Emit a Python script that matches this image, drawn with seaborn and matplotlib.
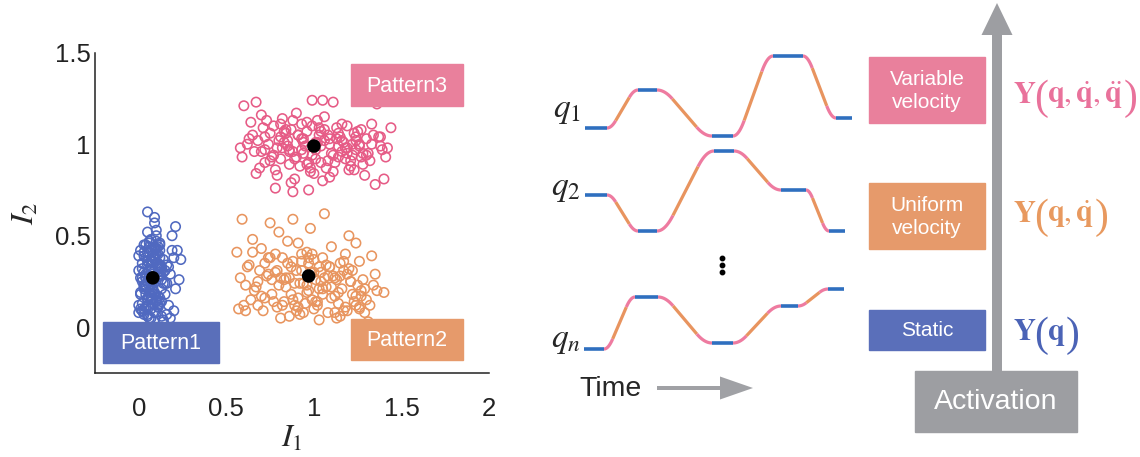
import numpy as np
import pandas as pd
import matplotlib
matplotlib.use("Agg")
import matplotlib.pyplot as plt
from matplotlib.patches import Rectangle, FancyArrow
import seaborn as sns

# ---------------- data ----------------
P1_x = [0.05,0.09,0.10,0.04,0.07,0.12,0.02,0.06,0.11,0.08,
        0.03,0.09,0.13,0.01,0.05,0.07,0.10,0.12,0.04,0.08,
        0.00,0.06,0.11,0.09,0.03,0.14,0.07,0.02,0.10,0.05,
        0.12,0.08,0.01,0.04,0.13,0.06,0.09,0.11,0.03,0.07,
        0.00,0.10,0.05,0.12,0.08,0.02,0.14,0.06,0.09,0.04,
        0.11,0.07,0.01,0.13,0.05,0.10,0.03,0.08,0.12,0.06,
        0.02,0.09,0.15,0.04,0.11,0.07,0.00,0.13,0.05,0.10,
        0.08,0.03,0.12,0.06,0.14,0.01,0.09,0.16,0.04,0.11,
        0.07,0.02,0.10,0.05,0.13,0.08,0.15,0.03,0.12,0.06,
        0.19,0.21,0.24,0.23,0.21,0.19,0.22,0.17,0.18,0.20,
        0.16,0.18,0.15,0.17,0.20,0.16,0.09,0.05,0.12,0.14,
        0.03,0.07,0.11,0.05,0.09,0.13,0.01,0.06,0.10,0.04,
        0.08,0.12,0.02,0.07,0.11,0.05,0.09,0.03,0.13,0.06,
        0.10,0.04,0.08,0.12,0.00,0.07,0.11,0.05,0.09,0.14,
        0.02,0.06,0.10,0.04,0.08,0.12,0.03,0.07,0.11,0.05]
P1_y = [0.63,0.60,0.53,0.45,0.42,0.38,0.35,0.31,0.28,0.25,
        0.22,0.18,0.14,0.10,0.07,0.48,0.40,0.33,0.27,0.20,
        0.12,0.05,0.44,0.37,0.30,0.24,0.16,0.09,0.50,0.41,
        0.34,0.26,0.19,0.11,0.06,0.46,0.39,0.32,0.23,0.15,
        0.08,0.43,0.36,0.29,0.21,0.13,0.04,0.47,0.38,0.27,
        0.17,0.10,0.42,0.33,0.25,0.14,0.07,0.36,0.28,0.19,
        0.09,0.44,0.31,0.22,0.12,0.05,0.39,0.26,0.16,0.35,
        0.29,0.21,0.13,0.41,0.30,0.18,0.08,0.34,0.23,0.11,
        0.37,0.27,0.15,0.06,0.32,0.20,0.24,0.10,0.45,0.28,
        0.50,0.55,0.37,0.26,0.21,0.42,0.42,0.33,0.29,0.38,
        0.07,0.05,0.18,0.12,0.09,0.24,0.57,0.52,0.46,0.03,
        0.41,0.36,0.30,0.24,0.19,0.33,0.27,0.44,0.14,0.38,
        0.22,0.28,0.32,0.17,0.40,0.12,0.26,0.45,0.21,0.35,
        0.08,0.29,0.39,0.16,0.31,0.23,0.11,0.34,0.43,0.37,
        0.25,0.20,0.47,0.18,0.13,0.42,0.39,0.31,0.35,0.15]

P2_x = [0.59,0.65,0.75,0.80,0.88,0.91,0.98,1.06,1.20,1.24,
        0.56,0.62,0.70,0.78,0.85,0.93,1.00,1.10,1.17,1.33,
        0.58,0.66,0.72,0.82,0.89,0.96,1.03,1.13,1.26,1.35,
        0.60,0.68,0.76,0.84,0.90,0.99,1.05,1.15,1.22,1.40,
        0.57,0.64,0.73,0.79,0.87,0.94,1.02,1.09,1.19,1.30,
        0.61,0.69,0.77,0.83,0.92,0.97,1.04,1.12,1.25,1.32,
        0.63,0.71,0.80,0.86,0.95,1.01,1.08,1.16,1.23,1.28,
        0.67,0.74,0.81,0.88,0.93,1.00,1.07,1.14,1.21,1.29,
        0.70,0.78,0.84,0.90,0.96,1.03,1.10,1.18,1.27,1.34,
        0.74,0.82,0.87,0.92,0.98,1.05,1.11,1.15,1.20,1.26,
        0.76,0.85,0.91,0.97,1.02,1.06,1.12,1.17,1.24,1.31,
        0.88,0.93,0.99,1.04,1.09,1.14,1.19,1.24,1.29,0.91,
        0.96,1.01,1.07,1.12,1.17,1.22,1.27,0.86,0.94,1.00,
        1.05,1.10,1.15,1.21,1.26,0.89,0.97,1.03,1.08,1.13,
        0.65,0.72,0.79,0.61,0.75,0.83,1.18,1.36,0.68,0.81]
P2_y = [0.59,0.48,0.57,0.52,0.59,0.46,0.54,0.62,0.50,0.46,
        0.41,0.33,0.43,0.30,0.47,0.40,0.37,0.44,0.31,0.39,
        0.27,0.20,0.35,0.38,0.24,0.41,0.33,0.26,0.36,0.29,
        0.12,0.25,0.18,0.22,0.31,0.15,0.21,0.28,0.18,0.19,
        0.10,0.15,0.28,0.11,0.18,0.24,0.12,0.33,0.09,0.15,
        0.09,0.31,0.14,0.26,0.07,0.20,0.30,0.17,0.23,0.12,
        0.34,0.09,0.23,0.06,0.13,0.26,0.08,0.21,0.14,0.26,
        0.22,0.29,0.05,0.15,0.36,0.10,0.22,0.13,0.25,0.08,
        0.17,0.40,0.27,0.09,0.19,0.04,0.16,0.11,0.20,0.23,
        0.38,0.12,0.33,0.24,0.30,0.18,0.28,0.06,0.32,0.10,
        0.26,0.35,0.11,0.38,0.14,0.27,0.08,0.36,0.17,0.03,
        0.36,0.31,0.40,0.25,0.33,0.19,0.29,0.12,0.21,0.16,
        0.23,0.14,0.34,0.27,0.09,0.31,0.17,0.27,0.08,0.30,
        0.38,0.22,0.35,0.25,0.11,0.12,0.35,0.21,0.28,0.05,
        0.41,0.16,0.31,0.23,0.38,0.14,0.40,0.20,0.12,0.27]

P3_x = [0.60,0.67,0.99,1.05,1.11,1.36,0.58,0.59,0.67,1.44,
        1.41,1.40,1.35,0.78,0.88,0.97,0.64,0.70,0.75,0.82,
        0.85,0.90,0.94,1.02,1.08,1.14,1.19,1.25,1.30,1.33,
        0.66,0.72,0.77,0.81,0.87,0.92,0.96,1.01,1.06,1.12,
        1.17,1.22,1.27,1.32,1.38,0.69,0.74,0.79,0.84,0.89,
        0.93,0.98,1.03,1.09,1.15,1.20,1.24,1.29,1.34,0.71,
        0.76,0.80,0.86,0.91,0.95,1.00,1.04,1.10,1.16,1.21,
        1.26,1.31,0.73,0.78,0.83,0.88,0.93,0.97,1.02,1.07,
        1.13,1.18,1.23,1.28,1.37,0.68,0.75,0.82,0.90,0.96,
        1.01,1.06,1.11,1.16,1.22,1.27,0.63,0.72,0.81,0.86,
        0.94,0.99,1.04,1.09,1.14,1.19,1.24,1.30,1.39,0.85,
        0.79,0.84,0.89,0.94,0.99,1.04,1.09,1.14,1.19,1.24,
        0.81,0.86,0.91,0.96,1.01,1.06,1.11,1.16,1.21,1.26,
        0.77,0.83,0.88,0.93,0.98,1.03,1.08,1.13,1.18,1.23,
        1.28,0.72,0.65,0.70,1.33,1.38,1.42,0.62,0.87,1.05]
P3_y = [1.21,1.23,1.24,1.24,1.23,1.22,0.98,0.93,0.84,1.09,
        0.93,0.81,0.78,0.76,0.74,0.75,1.12,1.16,1.06,1.14,
        1.02,1.17,0.95,1.13,1.05,0.99,1.10,1.07,1.03,1.00,
        0.96,1.04,1.10,0.92,1.08,0.88,1.12,0.97,1.15,0.90,
        1.01,0.94,1.08,0.91,0.99,0.87,1.00,0.83,1.06,0.81,
        1.03,0.85,1.09,0.82,1.04,0.86,0.97,0.83,1.05,1.09,
        0.93,1.02,0.89,1.05,0.99,0.84,1.07,0.95,1.11,0.88,
        1.00,0.95,1.13,0.86,1.07,0.96,1.11,0.90,1.01,0.87,
        1.03,0.92,1.06,0.89,1.04,1.02,0.91,0.98,0.93,1.07,
        0.92,1.02,0.85,0.96,1.00,0.93,1.03,0.97,1.04,0.97,
        1.01,0.94,0.99,1.03,0.93,0.98,1.02,0.94,0.97,0.99,
        0.98,1.08,0.92,1.03,1.10,0.90,1.00,1.06,0.95,1.04,
        1.11,0.96,1.05,0.89,1.01,1.08,0.94,1.02,0.91,0.99,
        0.94,1.01,1.13,0.97,0.87,1.05,0.91,1.09,0.98,0.86,
        0.95,0.90,1.05,0.96,1.11,1.04,0.98,1.00,0.79,0.80]

centroid_x = [0.08, 0.97, 1.00]
centroid_y = [0.27, 0.28, 0.99]
pattern_names = ["Pattern1", "Pattern2", "Pattern3"]

x_ticks = [0, 0.5, 1, 1.5, 2]
x_ticklabels = ["0", "0.5", "1", "1.5", "2"]
y_ticks = [0, 0.5, 1, 1.5]
y_ticklabels = ["0", "0.5", "1", "1.5"]

# joint trajectories: static (dwell) intervals (t_start, t_end) and levels (screen units)
q1_t = [(585, 607), (638, 657), (712, 733), (773, 803), (836, 852)]
q1_lv = [128, 90, 136, 56, 118]
q2_t = [(585, 607), (638, 657), (714, 734), (781, 806), (829, 845)]
q2_lv = [195, 231, 151, 190, 231]
qn_t = [(584, 604), (635, 658), (712, 733), (781, 798), (828, 844)]
qn_lv = [349, 297, 343, 306, 289]
traj_labels = [r"$q_1$", r"$q_2$", r"$q_n$"]

level_names = ["Variable\nvelocity", "Uniform\nvelocity", "Static"]
level_args = [r"$\mathbf{q},\dot{\mathbf{q}},\ddot{\mathbf{q}}$",
              r"$\mathbf{q},\dot{\mathbf{q}}$",
              r"$\mathbf{q}$"]

# ---------------- style ----------------
sns.set_theme(style="white")
plt.rcParams["font.family"] = ["Liberation Sans", "DejaVu Sans"]
plt.rcParams["mathtext.fontset"] = "stix"

C_BLUE_PT = "#5069c0"
C_ORANGE_PT = "#e8955f"
C_PINK_PT = "#e65b86"
C_BLUE_BOX = "#5a6fba"
C_ORANGE_BOX = "#e69a6b"
C_PINK_BOX = "#e9809c"
C_TR_BLUE = "#2f6fbf"
C_TR_PINK = "#ee7ba0"
C_TR_ORANGE = "#e8945f"
C_GRAY = "#9d9ea2"
C_F_PINK = "#e9729b"
C_F_ORANGE = "#e8995f"
C_F_BLUE = "#4b63b6"

fig = plt.figure(figsize=(11.4, 4.57), dpi=100)

# ---------------- scatter panel ----------------
ax = fig.add_axes([95 / 1140, 84 / 457, (489 - 95) / 1140, (373 - 52.7) / 457])
for xs, ys, c in [(P1_x, P1_y, C_BLUE_PT), (P2_x, P2_y, C_ORANGE_PT), (P3_x, P3_y, C_PINK_PT)]:
    df = pd.DataFrame({"x": xs, "y": ys})
    sns.scatterplot(data=df, x="x", y="y", ax=ax, marker="o", s=46, color=c,
                    facecolors="none", edgecolor=c, linewidth=1.15, legend=False, zorder=2)
sns.scatterplot(x=centroid_x, y=centroid_y, ax=ax, color="black", s=95,
                edgecolor="none", legend=False, zorder=3)

ax.set_xlim(-0.25, 2)
ax.set_ylim(-0.25, 1.5)
ax.set_xticks(x_ticks)
ax.set_xticklabels(x_ticklabels)
ax.set_yticks(y_ticks)
ax.set_yticklabels(y_ticklabels)
ax.tick_params(direction="in", length=4, width=1.1, labelsize=18.5, colors="#222222")
ax.tick_params(axis="x", pad=17)
ax.tick_params(axis="y", pad=3)
for s in ["top", "right"]:
    ax.spines[s].set_visible(False)
for s in ["left", "bottom"]:
    ax.spines[s].set_color("#222222")
    ax.spines[s].set_linewidth(1.1)
ax.set_xlabel(r"$I_1$", fontsize=23, labelpad=2)
ax.set_ylabel(r"$I_2$", fontsize=23, labelpad=10)
ax.patch.set_alpha(0)

# ---------------- overlay (diagram) ----------------
ov = fig.add_axes([0, 0, 1, 1])
ov.set_xlim(0, 1140)
ov.set_ylim(457, 0)
ov.axis("off")

# pattern label boxes
for (x0, y0, w, h), name, c in [((103, 322, 116, 41), pattern_names[0], C_BLUE_BOX),
                                 ((351, 319, 112, 41), pattern_names[1], C_ORANGE_BOX),
                                 ((351, 64, 112, 42), pattern_names[2], C_PINK_BOX)]:
    ov.add_patch(Rectangle((x0, y0), w, h, color=c, zorder=3))
    ov.text(x0 + w / 2, y0 + h / 2 + 1, name, color="white", fontsize=15.5,
            ha="center", va="center", zorder=4)

# trajectories
def draw_traj(times, levels, f=0.28, lw=2.3):
    for i in range(len(times) - 1):
        t0 = times[i][1]
        t1 = times[i + 1][0]
        y0 = levels[i]
        y1 = levels[i + 1]
        T = t1 - t0
        ta = f * T
        v = (y1 - y0) / (T - ta)
        a = v / ta
        s1 = np.linspace(0, ta, 20)
        s2 = np.linspace(ta, T - ta, 20)
        s3 = np.linspace(T - ta, T, 20)
        ov.plot(t0 + s1, y0 + 0.5 * a * s1 ** 2, color=C_TR_PINK, lw=lw,
                solid_capstyle="butt", zorder=2)
        ov.plot(t0 + s2, y0 + 0.5 * v * ta + v * (s2 - ta), color=C_TR_ORANGE, lw=lw,
                solid_capstyle="butt", zorder=2)
        ov.plot(t0 + s3, y1 - 0.5 * a * (T - s3) ** 2, color=C_TR_PINK, lw=lw,
                solid_capstyle="butt", zorder=2)
    for (ta_, tb_), lv in zip(times, levels):
        ov.plot([ta_, tb_], [lv, lv], color=C_TR_BLUE, lw=lw + 0.3,
                solid_capstyle="butt", zorder=3)

for times, levels in [(q1_t, q1_lv), (q2_t, q2_lv), (qn_t, qn_lv)]:
    draw_traj(times, levels)

for lab, yy in zip(traj_labels, [111, 188, 340]):
    ov.text(581, yy, lab, fontsize=24, ha="right", va="center")

# vertical dots
ov.plot([722, 722, 722], [258, 265, 272], "o", color="black", ms=3.2)

# time arrow
ov.text(579, 389, "Time", fontsize=20.5, ha="left", va="center")
ov.add_patch(FancyArrow(657, 388, 96, 0, width=4, head_width=23, head_length=33,
                        length_includes_head=True, color="#a0a1a5", lw=0))

# activation arrow & box
ov.add_patch(FancyArrow(997, 372, 0, -369, width=10, head_width=31, head_length=32,
                        length_includes_head=True, color=C_GRAY, lw=0, zorder=1))
ov.add_patch(Rectangle((915, 371), 162, 61, color=C_GRAY, zorder=2))
ov.text(996, 402, "Activation", color="white", fontsize=20.5, ha="center", va="center", zorder=3)

renderer = fig.canvas.get_renderer()

def draw_formula(x, base, arg, color):
    parts = [(r"$\mathbf{Y}$", 22, 0, -2),
             ("(", 30, 6, -1),
             (arg, 22, 0, 0),
             (")", 30, 6, 0)]
    for s, size, dy, gap in parts:
        t = ov.text(x, base + dy, s, fontsize=size, color=color, ha="left", va="baseline",
                    family=["Liberation Serif"], fontweight="light", zorder=3)
        bb = t.get_window_extent(renderer)
        x += bb.width + gap

# level boxes
for (y0, h), name, c, fc, arg, fy in [((57, 66), level_names[0], C_PINK_BOX, C_F_PINK, level_args[0], 103),
                                      ((183, 66), level_names[1], C_ORANGE_BOX, C_F_ORANGE, level_args[1], 222),
                                      ((310, 40), level_names[2], C_BLUE_BOX, C_F_BLUE, level_args[2], 340)]:
    ov.add_patch(Rectangle((869, y0), 116, h, color=c, zorder=2))
    ov.text(927, y0 + h / 2 + 1, name, color="white", fontsize=15, ha="center", va="center",
            linespacing=1.25, zorder=3)
    draw_formula(1013, fy, arg, fc)

fig.savefig("out.png", dpi=100)
